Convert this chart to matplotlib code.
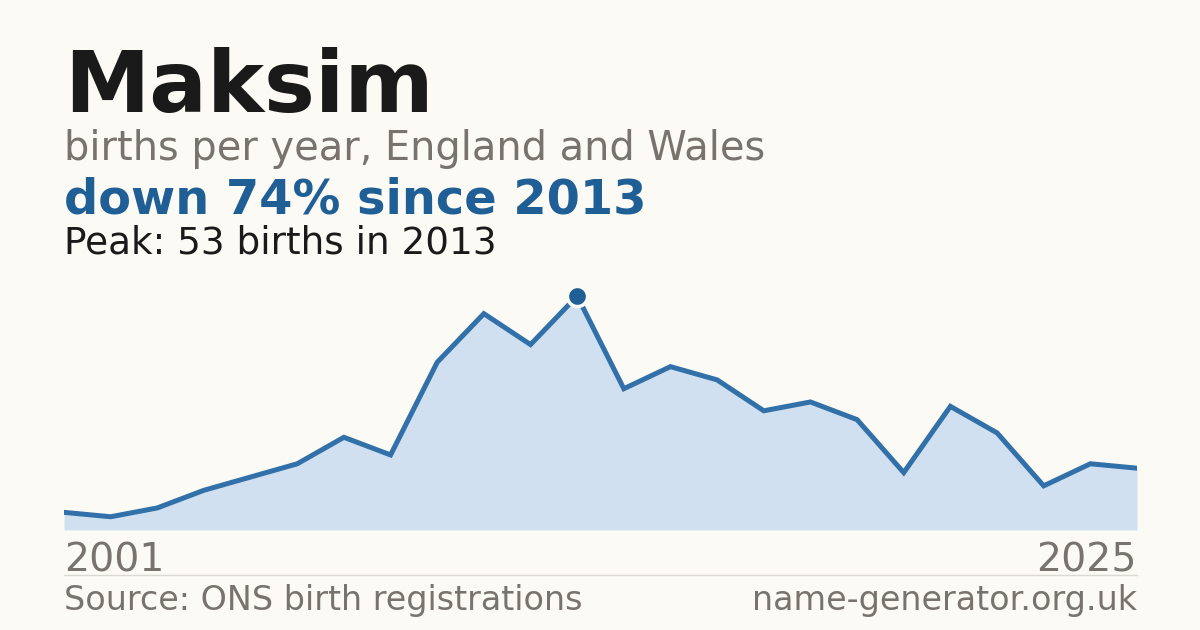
import matplotlib
matplotlib.use("Agg")
import matplotlib.pyplot as plt

# births per year for "Maksim"
years = list(range(2002, 2026))
births = [4, 3, 5, 9, 12, 15, 21, 17, 38, 49, 42, 53, 32, 37, 34, 27, 29, 25, 13, 28, 22, 10, 15, 14]
name = "Maksim"
subtitle = "births per year, England and Wales"
headline = "down 74% since 2013"
peak_note = "Peak: 53 births in 2013"
first_label, last_label = "2001", "2025"
source = "Source: ONS birth registrations"
site = "name-generator.org.uk"

BG = "#fbfaf5"
BLUE = "#1f5f96"
GREY = "#78736c"
W, H = 1200, 630

plt.rcParams["font.family"] = ["DejaVu Sans"]
fig = plt.figure(figsize=(12, 6.3), dpi=100, facecolor=BG)

def fy(px):
    return 1 - px / H

fig.text(64 / W, fy(112), name, fontsize=61.7, fontweight="bold", color="#1a1a1a", va="baseline")
fig.text(64 / W, fy(160), subtitle, fontsize=28.7, color=GREY, va="baseline")
fig.text(64 / W, fy(214), headline, fontsize=34.5, fontweight="bold", color=BLUE, va="baseline")
fig.text(64 / W, fy(253), peak_note, fontsize=26.9, color="#1a1a1a", va="baseline")

ax = fig.add_axes([64 / W, fy(530), 1073 / W, 250 / H])
ax.set_facecolor(BG)
ax.fill_between(years, births, 0, color="#d0e0f0", linewidth=0)
ax.plot(years, births, color="#3170a8", linewidth=3.6, solid_joinstyle="miter")
pk = births.index(max(births))
ax.plot(years[pk], births[pk], "o", markersize=14.5, color=BLUE,
        markeredgecolor=BG, markeredgewidth=2.5, zorder=5)
ax.set_xlim(years[0], years[-1])
ax.set_ylim(0, 250 / 4.415)
ax.axis("off")

fig.text(64 / W, fy(571), first_label, fontsize=28.4, color=GREY, va="baseline")
fig.text(1137 / W, fy(571), last_label, fontsize=28.4, color=GREY, va="baseline", ha="right")
fig.add_artist(plt.Line2D([64 / W, 1137 / W], [fy(574.5), fy(574.5)], color="#dcd9d2", linewidth=1))
fig.text(64 / W, fy(610), source, fontsize=24, color=GREY, va="baseline")
fig.text(1137 / W, fy(610), site, fontsize=24, color=GREY, va="baseline", ha="right")

fig.savefig("out.png", dpi=100, facecolor=BG)
